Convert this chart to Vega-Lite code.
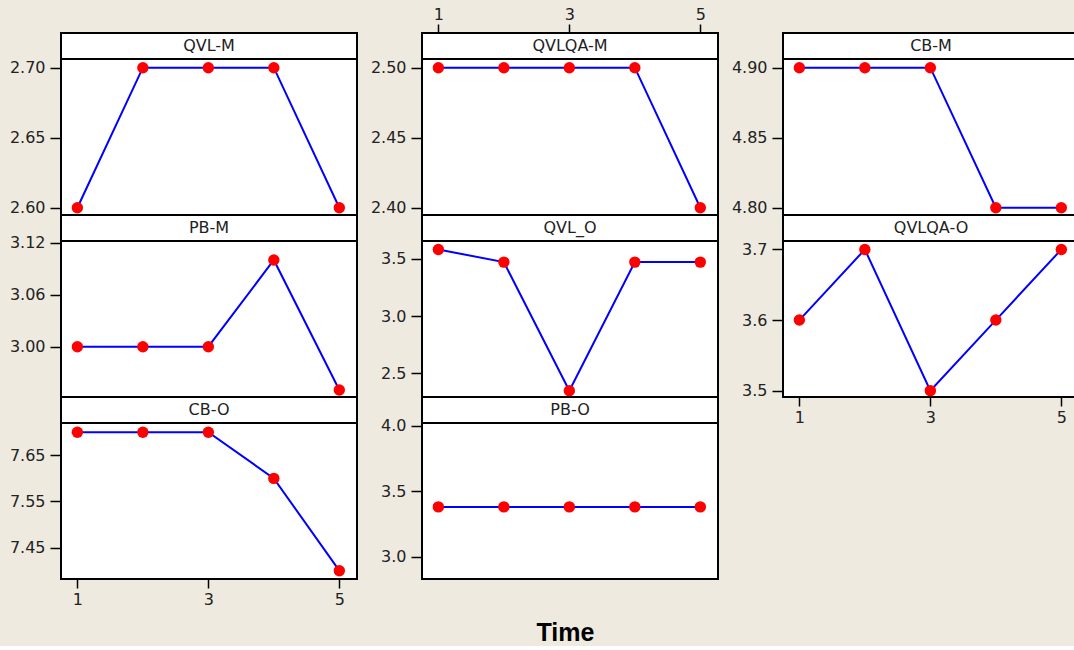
{
  "$schema": "https://vega.github.io/schema/vega-lite/v6.json",
  "background": "#EEEAE0",
  "padding": {"left": 8, "top": 5, "right": 0, "bottom": 0},
  "data": {"values": [
    {"panel": "QVL-M", "time": 1, "value": 2.6}, {"panel": "QVL-M", "time": 2, "value": 2.7}, {"panel": "QVL-M", "time": 3, "value": 2.7}, {"panel": "QVL-M", "time": 4, "value": 2.7}, {"panel": "QVL-M", "time": 5, "value": 2.6},
    {"panel": "QVLQA-M", "time": 1, "value": 2.5}, {"panel": "QVLQA-M", "time": 2, "value": 2.5}, {"panel": "QVLQA-M", "time": 3, "value": 2.5}, {"panel": "QVLQA-M", "time": 4, "value": 2.5}, {"panel": "QVLQA-M", "time": 5, "value": 2.4},
    {"panel": "CB-M", "time": 1, "value": 4.9}, {"panel": "CB-M", "time": 2, "value": 4.9}, {"panel": "CB-M", "time": 3, "value": 4.9}, {"panel": "CB-M", "time": 4, "value": 4.8}, {"panel": "CB-M", "time": 5, "value": 4.8},
    {"panel": "PB-M", "time": 1, "value": 3.0}, {"panel": "PB-M", "time": 2, "value": 3.0}, {"panel": "PB-M", "time": 3, "value": 3.0}, {"panel": "PB-M", "time": 4, "value": 3.1}, {"panel": "PB-M", "time": 5, "value": 2.95},
    {"panel": "QVL_O", "time": 1, "value": 3.58}, {"panel": "QVL_O", "time": 2, "value": 3.47}, {"panel": "QVL_O", "time": 3, "value": 2.35}, {"panel": "QVL_O", "time": 4, "value": 3.47}, {"panel": "QVL_O", "time": 5, "value": 3.47},
    {"panel": "QVLQA-O", "time": 1, "value": 3.6}, {"panel": "QVLQA-O", "time": 2, "value": 3.7}, {"panel": "QVLQA-O", "time": 3, "value": 3.5}, {"panel": "QVLQA-O", "time": 4, "value": 3.6}, {"panel": "QVLQA-O", "time": 5, "value": 3.7},
    {"panel": "CB-O", "time": 1, "value": 7.7}, {"panel": "CB-O", "time": 2, "value": 7.7}, {"panel": "CB-O", "time": 3, "value": 7.7}, {"panel": "CB-O", "time": 4, "value": 7.6}, {"panel": "CB-O", "time": 5, "value": 7.4},
    {"panel": "PB-O", "time": 1, "value": 3.38}, {"panel": "PB-O", "time": 2, "value": 3.38}, {"panel": "PB-O", "time": 3, "value": 3.38}, {"panel": "PB-O", "time": 4, "value": 3.38}, {"panel": "PB-O", "time": 5, "value": 3.38}
  ]},
  "columns": 3,
  "spacing": {"row": 0, "column": 65},
  "bounds": "flush",
  "concat": [
    {"width": 296, "height": 26, "transform": [{"filter": "datum.panel === 'QVL-M' && datum.time === 1"}], "mark": {"type": "text", "fontSize": 16, "font": "DejaVu Sans", "color": "#222"}, "encoding": {"x": {"field": "time", "type": "quantitative", "scale": {"domain": [0, 2]}, "axis": null}, "text": {"field": "panel"}}},
    {"width": 296, "height": 26, "transform": [{"filter": "datum.panel === 'QVLQA-M' && datum.time === 1"}], "mark": {"type": "text", "fontSize": 16, "font": "DejaVu Sans", "color": "#222"}, "encoding": {"x": {"field": "time", "type": "quantitative", "scale": {"domain": [0, 2]}, "axis": null}, "text": {"field": "panel"}}},
    {"width": 296, "height": 26, "transform": [{"filter": "datum.panel === 'CB-M' && datum.time === 1"}], "mark": {"type": "text", "fontSize": 16, "font": "DejaVu Sans", "color": "#222"}, "encoding": {"x": {"field": "time", "type": "quantitative", "scale": {"domain": [0, 2]}, "axis": null}, "text": {"field": "panel"}}},

    {"width": 296, "height": 156, "transform": [{"filter": "datum.panel === 'QVL-M'"}],
     "encoding": {"x": {"field": "time", "type": "quantitative", "scale": {"domain": [0.75, 5.27], "nice": false, "zero": false}, "axis": null},
                  "y": {"field": "value", "type": "quantitative", "scale": {"domain": [2.5948, 2.7062], "nice": false, "zero": false}, "axis": {"values": [2.6, 2.65, 2.7], "format": ".2f", "title": null}}},
     "layer": [{"mark": {"type": "line", "color": "#0000FF", "strokeWidth": 2}}, {"mark": {"type": "circle", "color": "#FF0000", "opacity": 1, "size": 130}}]},
    {"width": 296, "height": 156, "transform": [{"filter": "datum.panel === 'QVLQA-M'"}],
     "encoding": {"x": {"field": "time", "type": "quantitative", "scale": {"domain": [0.75, 5.27], "nice": false, "zero": false}, "axis": {"orient": "top", "offset": 26, "values": [1, 3, 5], "title": null, "labelPadding": 2}},
                  "y": {"field": "value", "type": "quantitative", "scale": {"domain": [2.3948, 2.5062], "nice": false, "zero": false}, "axis": {"values": [2.4, 2.45, 2.5], "format": ".2f", "title": null}}},
     "layer": [{"mark": {"type": "line", "color": "#0000FF", "strokeWidth": 2}}, {"mark": {"type": "circle", "color": "#FF0000", "opacity": 1, "size": 130}}]},
    {"width": 296, "height": 156, "transform": [{"filter": "datum.panel === 'CB-M'"}],
     "encoding": {"x": {"field": "time", "type": "quantitative", "scale": {"domain": [0.75, 5.27], "nice": false, "zero": false}, "axis": null},
                  "y": {"field": "value", "type": "quantitative", "scale": {"domain": [4.7948, 4.9062], "nice": false, "zero": false}, "axis": {"values": [4.8, 4.85, 4.9], "format": ".2f", "title": null}}},
     "layer": [{"mark": {"type": "line", "color": "#0000FF", "strokeWidth": 2}}, {"mark": {"type": "circle", "color": "#FF0000", "opacity": 1, "size": 130}}]},

    {"width": 296, "height": 26, "transform": [{"filter": "datum.panel === 'PB-M' && datum.time === 1"}], "mark": {"type": "text", "fontSize": 16, "font": "DejaVu Sans", "color": "#222"}, "encoding": {"x": {"field": "time", "type": "quantitative", "scale": {"domain": [0, 2]}, "axis": null}, "text": {"field": "panel"}}},
    {"width": 296, "height": 26, "transform": [{"filter": "datum.panel === 'QVL_O' && datum.time === 1"}], "mark": {"type": "text", "fontSize": 16, "font": "DejaVu Sans", "color": "#222"}, "encoding": {"x": {"field": "time", "type": "quantitative", "scale": {"domain": [0, 2]}, "axis": null}, "text": {"field": "panel"}}},
    {"width": 296, "height": 26, "transform": [{"filter": "datum.panel === 'QVLQA-O' && datum.time === 1"}], "mark": {"type": "text", "fontSize": 16, "font": "DejaVu Sans", "color": "#222"}, "encoding": {"x": {"field": "time", "type": "quantitative", "scale": {"domain": [0, 2]}, "axis": null}, "text": {"field": "panel"}}},

    {"width": 296, "height": 156, "transform": [{"filter": "datum.panel === 'PB-M'"}],
     "encoding": {"x": {"field": "time", "type": "quantitative", "scale": {"domain": [0.75, 5.27], "nice": false, "zero": false}, "axis": null},
                  "y": {"field": "value", "type": "quantitative", "scale": {"domain": [2.942, 3.1219], "nice": false, "zero": false}, "axis": {"values": [3.0, 3.06, 3.12], "format": ".2f", "title": null}}},
     "layer": [{"mark": {"type": "line", "color": "#0000FF", "strokeWidth": 2}}, {"mark": {"type": "circle", "color": "#FF0000", "opacity": 1, "size": 130}}]},
    {"width": 296, "height": 156, "transform": [{"filter": "datum.panel === 'QVL_O'"}],
     "encoding": {"x": {"field": "time", "type": "quantitative", "scale": {"domain": [0.75, 5.27], "nice": false, "zero": false}, "axis": null},
                  "y": {"field": "value", "type": "quantitative", "scale": {"domain": [2.295, 3.654], "nice": false, "zero": false}, "axis": {"values": [2.5, 3.0, 3.5], "format": ".1f", "title": null}}},
     "layer": [{"mark": {"type": "line", "color": "#0000FF", "strokeWidth": 2}}, {"mark": {"type": "circle", "color": "#FF0000", "opacity": 1, "size": 130}}]},
    {"width": 296, "height": 156, "transform": [{"filter": "datum.panel === 'QVLQA-O'"}],
     "encoding": {"x": {"field": "time", "type": "quantitative", "scale": {"domain": [0.75, 5.27], "nice": false, "zero": false}, "axis": {"values": [1, 3, 5], "title": null}},
                  "y": {"field": "value", "type": "quantitative", "scale": {"domain": [3.491, 3.712], "nice": false, "zero": false}, "axis": {"values": [3.5, 3.6, 3.7], "format": ".1f", "title": null}}},
     "layer": [{"mark": {"type": "line", "color": "#0000FF", "strokeWidth": 2}}, {"mark": {"type": "circle", "color": "#FF0000", "opacity": 1, "size": 130}}]},

    {"width": 296, "height": 26, "transform": [{"filter": "datum.panel === 'CB-O' && datum.time === 1"}], "mark": {"type": "text", "fontSize": 16, "font": "DejaVu Sans", "color": "#222"}, "encoding": {"x": {"field": "time", "type": "quantitative", "scale": {"domain": [0, 2]}, "axis": null}, "text": {"field": "panel"}}},
    {"width": 296, "height": 26, "transform": [{"filter": "datum.panel === 'PB-O' && datum.time === 1"}], "mark": {"type": "text", "fontSize": 16, "font": "DejaVu Sans", "color": "#222"}, "encoding": {"x": {"field": "time", "type": "quantitative", "scale": {"domain": [0, 2]}, "axis": null}, "text": {"field": "panel"}}},
    {"width": 296, "height": 26, "view": {"stroke": null, "fill": null}, "transform": [{"filter": "false"}], "mark": {"type": "text"}, "encoding": {"text": {"field": "panel"}}},

    {"width": 296, "height": 156, "transform": [{"filter": "datum.panel === 'CB-O'"}],
     "encoding": {"x": {"field": "time", "type": "quantitative", "scale": {"domain": [0.75, 5.27], "nice": false, "zero": false}, "axis": {"values": [1, 3, 5], "title": null}},
                  "y": {"field": "value", "type": "quantitative", "scale": {"domain": [7.382, 7.72], "nice": false, "zero": false}, "axis": {"values": [7.45, 7.55, 7.65], "format": ".2f", "title": null}}},
     "layer": [{"mark": {"type": "line", "color": "#0000FF", "strokeWidth": 2}}, {"mark": {"type": "circle", "color": "#FF0000", "opacity": 1, "size": 130}}]},
    {"width": 296, "height": 156, "transform": [{"filter": "datum.panel === 'PB-O'"}],
     "encoding": {"x": {"field": "time", "type": "quantitative", "scale": {"domain": [0.75, 5.27], "nice": false, "zero": false}, "axis": {"labels": false, "ticks": false, "domain": false, "title": "Time", "titleFont": "Liberation Sans", "titleFontSize": 25, "titleFontWeight": "bold", "titleColor": "black", "titlePadding": 41, "titleX": 143}},
                  "y": {"field": "value", "type": "quantitative", "scale": {"domain": [2.83, 4.02], "nice": false, "zero": false}, "axis": {"values": [3.0, 3.5, 4.0], "format": ".1f", "title": null}}},
     "layer": [{"mark": {"type": "line", "color": "#0000FF", "strokeWidth": 2}}, {"mark": {"type": "circle", "color": "#FF0000", "opacity": 1, "size": 130}}]}
  ],
  "config": {
    "view": {"stroke": "black", "strokeWidth": 2, "fill": "white"},
    "axis": {"labelFont": "DejaVu Sans", "labelFontSize": 16, "labelColor": "#222", "tickColor": "black", "tickWidth": 1.5, "grid": false, "domain": false},
    "axisY": {"tickSize": 11, "labelPadding": 5},
    "axisX": {"tickSize": 9, "labelPadding": 3}
  }
}
